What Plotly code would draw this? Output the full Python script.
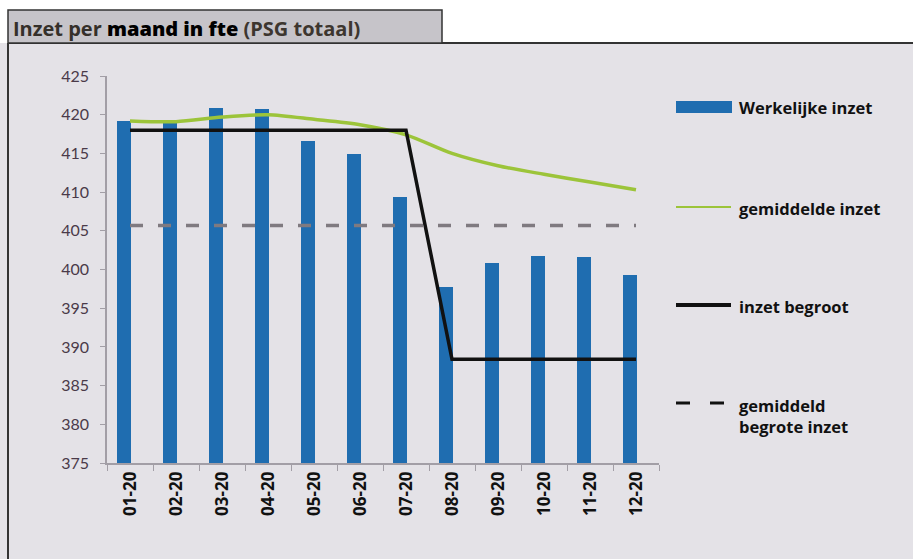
import plotly.graph_objects as go

# Monthly staffing in FTE (PSG total)
months = ["01-20", "02-20", "03-20", "04-20", "05-20", "06-20",
          "07-20", "08-20", "09-20", "10-20", "11-20", "12-20"]
werkelijke_inzet = [419.2, 418.9, 420.9, 420.8, 416.6, 414.9,
                    409.4, 397.8, 400.8, 401.8, 401.6, 399.3]
gemiddelde_inzet = [419.2, 419.1, 419.7, 420.0, 419.4, 418.7,
                    417.4, 415.0, 413.4, 412.3, 411.3, 410.3]
inzet_begroot = [418.0, 418.0, 418.0, 418.0, 418.0, 418.0,
                 418.0, 388.4, 388.4, 388.4, 388.4, 388.4]
gemiddeld_begroot = [405.7] * 12

legend_labels = ["Werkelijke inzet", "gemiddelde inzet", "inzet begroot",
                 "gemiddeld<br>begrote inzet"]
y_ticks = list(range(375, 426, 5))

BLUE = "#1f6db0"
GREEN = "#9cc43a"
BLACK = "#111111"
DASH = "#7f7a80"
BG = "#e4e2e7"
AXIS = "#a29ea6"

W_PX, H_PX = 913, 559
L, R, T, B = 107, 659, 76, 463


def px_x(px):
    return (px - L) / (R - L)


def px_y(py):
    return (B - py) / (B - T)


fig = go.Figure()

fig.add_trace(go.Bar(
    x=months, y=werkelijke_inzet, name=legend_labels[0],
    marker=dict(color=BLUE, line=dict(width=0)),
    width=0.30, offset=-0.285,
))
fig.add_trace(go.Scatter(
    x=months, y=gemiddelde_inzet, name="gemiddelde inzet", mode="lines",
    line=dict(color=GREEN, width=3.5, shape="spline", smoothing=0.8),
))
fig.add_trace(go.Scatter(
    x=months, y=inzet_begroot, name="inzet begroot", mode="lines",
    line=dict(color=BLACK, width=3.5),
))
fig.add_trace(go.Scatter(
    x=months, y=gemiddeld_begroot, name="gemiddeld begrote inzet", mode="lines",
    line=dict(color=DASH, width=3.5, dash="13px,15px"),
))

shapes = []
# white strip above the panel
shapes.append(dict(type="rect", xref="paper", yref="paper", layer="below",
                   x0=px_x(0), x1=px_x(W_PX), y0=px_y(43), y1=px_y(0),
                   fillcolor="white", line=dict(width=0)))
# panel borders (top and left)
shapes.append(dict(type="line", xref="paper", yref="paper",
                   x0=px_x(8), x1=px_x(W_PX), y0=px_y(43), y1=px_y(43),
                   line=dict(color="#333333", width=2)))
shapes.append(dict(type="line", xref="paper", yref="paper",
                   x0=px_x(8), x1=px_x(8), y0=px_y(43), y1=px_y(W_PX),
                   line=dict(color="#333333", width=2)))
# title box
shapes.append(dict(type="rect", xref="paper", yref="paper",
                   x0=px_x(8), x1=px_x(442), y0=px_y(43), y1=px_y(10),
                   fillcolor="#c6c4c9", line=dict(color="#333333", width=1.5)))

# legend keys
shapes.append(dict(type="rect", xref="paper", yref="paper",
                   x0=px_x(676), x1=px_x(732), y0=px_y(113), y1=px_y(101),
                   fillcolor=BLUE, line=dict(width=0)))
shapes.append(dict(type="line", xref="paper", yref="paper",
                   x0=px_x(676), x1=px_x(731), y0=px_y(207), y1=px_y(207),
                   line=dict(color=GREEN, width=2)))
shapes.append(dict(type="line", xref="paper", yref="paper",
                   x0=px_x(676), x1=px_x(731), y0=px_y(305), y1=px_y(305),
                   line=dict(color=BLACK, width=4)))
for a, b in [(676, 690), (710, 724)]:
    shapes.append(dict(type="line", xref="paper", yref="paper",
                       x0=px_x(a), x1=px_x(b), y0=px_y(403), y1=px_y(403),
                       line=dict(color=BLACK, width=3)))

annotations = [
    dict(xref="paper", yref="paper", x=px_x(11), y=px_y(28),
         xanchor="left", yanchor="middle", showarrow=False,
         text="<span style='color:#35302a'>Inzet per </span>"
              "<span style='color:#000000;font-weight:800'>maand in fte</span>"
              "<span style='color:#3d362f'> (PSG totaal)</span>",
         font=dict(family="Open Sans", size=20, weight="bold")),
]
legend_y = [107, 208, 306, 416]
for lab, ly in zip(legend_labels, legend_y):
    annotations.append(dict(
        xref="paper", yref="paper", x=px_x(737), y=px_y(ly),
        xanchor="left", yanchor="middle", align="left", showarrow=False,
        text=lab,
        font=dict(family="Open Sans", size=16.5, color="#111111", weight="bold"),
    ))

fig.update_layout(
    width=W_PX, height=H_PX,
    margin=dict(l=L, r=W_PX - R, t=T, b=H_PX - B, pad=0),
    paper_bgcolor=BG, plot_bgcolor="rgba(0,0,0,0)",
    showlegend=False, bargap=0,
    shapes=shapes, annotations=annotations,
    xaxis=dict(
        type="category", showgrid=False, zeroline=False,
        showline=True, linecolor=AXIS, linewidth=1.5,
        ticks="outside", tickson="boundaries", ticklen=6, tickcolor=AXIS,
        tickangle=-90,
        tickfont=dict(family="Open Sans", size=17, color="#111111", weight="bold"),
    ),
    yaxis=dict(
        range=[375, 425], tickvals=y_ticks, showgrid=False, zeroline=False,
        showline=True, linecolor=AXIS, linewidth=1.5,
        ticks="outside", ticklen=5, tickcolor=AXIS, ticklabelstandoff=8,
        tickfont=dict(family="Lato", size=16, color="#4a3a49"),
    ),
)

fig.write_html("out.html")
